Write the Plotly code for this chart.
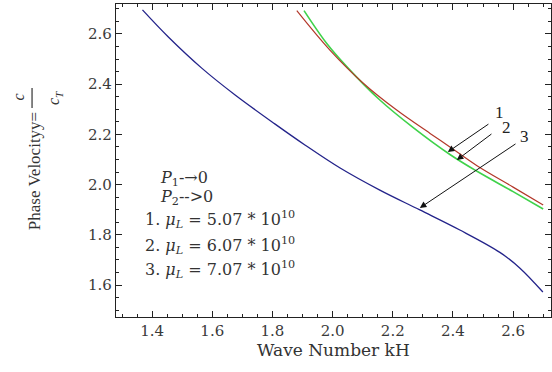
import plotly.graph_objects as go

# ---- data ----
blue_kh = [1.368, 1.454, 1.565, 1.676, 1.809, 1.908, 2.025, 2.157, 2.29, 2.423, 2.556, 2.622, 2.699]
blue_v = [2.696, 2.588, 2.464, 2.357, 2.241, 2.158, 2.066, 1.978, 1.899, 1.819, 1.73, 1.668, 1.572]

red_kh = [1.881, 1.991, 2.102, 2.213, 2.324, 2.39, 2.48, 2.60, 2.70]
red_v = [2.693, 2.536, 2.404, 2.297, 2.204, 2.15, 2.075, 1.99, 1.919]

green_kh = [1.905, 1.980, 2.047, 2.157, 2.267, 2.39, 2.48, 2.60, 2.70]
green_v = [2.693, 2.563, 2.47, 2.337, 2.228, 2.12, 2.053, 1.972, 1.903]

x_ticks = [1.4, 1.6, 1.8, 2.0, 2.2, 2.4, 2.6]
x_ticklabels = ["1.4", "1.6", "1.8", "2.0", "2.2", "2.4", "2.6"]
y_ticks = [1.6, 1.8, 2.0, 2.2, 2.4, 2.6]
y_ticklabels = ["1.6", "1.8", "2.0", "2.2", "2.4", "2.6"]

curve_labels = ["1", "2", "3"]
# arrow tail (label side) and head (curve side), in data units
arrow_tail_x = [2.523, 2.533, 2.613]
arrow_tail_y = [2.245, 2.206, 2.166]
arrow_head_x = [2.383, 2.413, 2.29]
arrow_head_y = [2.130, 2.098, 1.907]
label_x = [2.556, 2.579, 2.639]
label_y = [2.289, 2.229, 2.19]

legend_lines = [
    "<i>P</i><sub>1</sub>-→0",
    "<i>P</i><sub>2</sub>-->0",
    "1. <i>μ<sub>L</sub></i> = 5.07 * 10<sup>10</sup>",
    "2. <i>μ<sub>L</sub></i> = 6.07 * 10<sup>10</sup>",
    "3. <i>μ<sub>L</sub></i> = 7.07 * 10<sup>10</sup>",
]
legend_x = [1.42, 1.42, 1.37, 1.37, 1.37]
legend_y = [2.026, 1.947, 1.859, 1.759, 1.66]

fig = go.Figure()
fig.add_trace(go.Scatter(x=blue_kh, y=blue_v, mode="lines",
                         line=dict(color="#23238a", width=1.3, shape="spline"),
                         showlegend=False))
fig.add_trace(go.Scatter(x=green_kh, y=green_v, mode="lines",
                         line=dict(color="#3fd24a", width=1.6, shape="spline"),
                         showlegend=False))
fig.add_trace(go.Scatter(x=red_kh, y=red_v, mode="lines",
                         line=dict(color="#b3382a", width=1.2, shape="spline"),
                         showlegend=False))

tick_font = dict(family="DejaVu Serif", size=15, color="#3a3a3a")

fig.update_layout(
    width=552, height=372,
    margin=dict(l=116, r=1, t=4, b=55),
    paper_bgcolor="white", plot_bgcolor="white",
    xaxis=dict(range=[1.28, 2.726], tickvals=x_ticks, ticktext=x_ticklabels,
               automargin=False,
               ticks="inside", ticklen=6, tickcolor="#222", showgrid=False,
               zeroline=False, showline=True, linecolor="#222", linewidth=1.2,
               mirror="allticks", tickfont=tick_font,
               minor=dict(ticks="inside", dtick=0.05, tick0=1.4, ticklen=3,
                          tickcolor="#222", showgrid=False)),
    yaxis=dict(range=[1.4725, 2.7195], tickvals=y_ticks, ticktext=y_ticklabels,
               automargin=False,
               ticks="inside", ticklen=6, tickcolor="#222", showgrid=False,
               zeroline=False, showline=True, linecolor="#222", linewidth=1.2,
               mirror="allticks", tickfont=tick_font,
               minor=dict(ticks="inside", dtick=0.05, tick0=1.6, ticklen=3,
                          tickcolor="#222", showgrid=False)),
)

ann = []
for i in range(3):
    ann.append(dict(x=arrow_head_x[i], y=arrow_head_y[i], ax=arrow_tail_x[i], ay=arrow_tail_y[i],
                    xref="x", yref="y", axref="x", ayref="y", text="", showarrow=True,
                    arrowhead=2, arrowsize=1.3, arrowwidth=1, arrowcolor="#111"))
    ann.append(dict(x=label_x[i], y=label_y[i], xref="x", yref="y", text=curve_labels[i],
                    showarrow=False, font=dict(family="Liberation Serif", size=17, color="#222"),
                    xanchor="center", yanchor="middle"))
for t, lx, ly in zip(legend_lines, legend_x, legend_y):
    ann.append(dict(x=lx, y=ly, xref="x", yref="y", text=t, showarrow=False,
                    xanchor="left", yanchor="middle",
                    font=dict(family="DejaVu Serif", size=16, color="#333")))

# x-axis title
ann.append(dict(x=0.5, y=-0.106, xref="paper", yref="paper", text="Wave Number kH",
                showarrow=False, xanchor="center", yanchor="middle",
                font=dict(family="DejaVu Serif", size=17, color="#333")))
# y-axis title: "Phase Velocityy=" + fraction c / c_T (rotated)
ann.append(dict(x=-0.1885, y=0.466, xref="paper", yref="paper", text="Phase Velocityy=",
                textangle=-90, showarrow=False, xanchor="center", yanchor="middle",
                font=dict(family="Liberation Serif", size=17, color="#333")))
ann.append(dict(x=-0.222, y=0.703, xref="paper", yref="paper", text="<i>c</i>",
                textangle=-90, showarrow=False, xanchor="center", yanchor="middle",
                font=dict(family="Liberation Serif", size=16, color="#333")))
ann.append(dict(x=-0.14, y=0.700, xref="paper", yref="paper", text="<i>c<sub>T</sub></i>",
                textangle=-90, showarrow=False, xanchor="center", yanchor="middle",
                font=dict(family="Liberation Serif", size=16, color="#333")))
fig.update_layout(annotations=ann)
fig.add_shape(type="line", xref="paper", yref="paper", x0=-0.193, x1=-0.193,
              y0=0.6677, y1=0.7316, line=dict(color="#333", width=1.2))

fig.write_html("out.html", config={"displayModeBar": False},
               post_script="document.body.style.margin='0';document.body.style.overflow='hidden';")
